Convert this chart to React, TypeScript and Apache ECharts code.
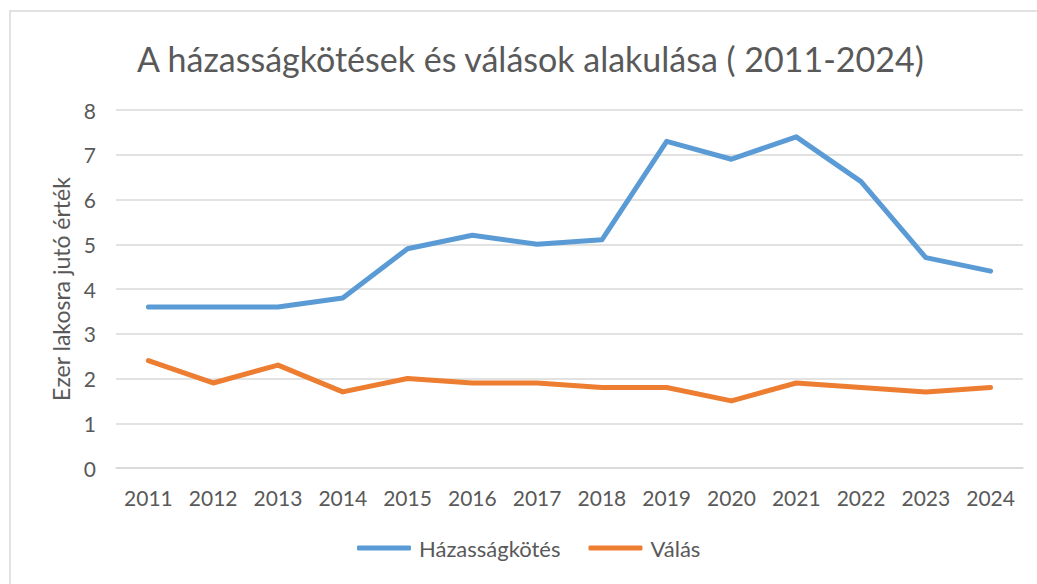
import React, { useEffect, useRef } from "react";
import * as echarts from "echarts";

const years = ["2011","2012","2013","2014","2015","2016","2017","2018","2019","2020","2021","2022","2023","2024"];
const hazassag = [3.6, 3.6, 3.6, 3.8, 4.9, 5.2, 5.0, 5.1, 7.3, 6.9, 7.4, 6.4, 4.7, 4.4];
const valas = [2.4, 1.9, 2.3, 1.7, 2.0, 1.9, 1.9, 1.8, 1.8, 1.5, 1.9, 1.8, 1.7, 1.8];
const titleText = "A házasságkötések és válások alakulása ( 2011-2024)";
const yName = "Ezer lakosra jutó érték";

const FONT = "Lato, 'Open Sans', sans-serif";
const TXT = "#595959";

export default function App() {
  const ref = useRef<HTMLDivElement>(null);
  useEffect(() => {
    const chart = echarts.init(ref.current!, null, { renderer: "svg" });
    chart.setOption({
      animation: false,
      backgroundColor: "#ffffff",
      textStyle: { fontFamily: FONT, color: TXT },
      graphic: [
        {
          type: "rect",
          shape: { x: 10, y: 11, width: 1100, height: 700 },
          style: { fill: "none", stroke: "#d9d9d9", lineWidth: 1.5 },
          silent: true,
          z: -1,
        },
      ],
      title: {
        text: titleText,
        left: 132,
        top: 36,
        textStyle: { fontFamily: FONT, fontSize: 34, fontWeight: "normal", color: TXT },
      },
      legend: {
        bottom: 20,
        left: 352,
        icon: "roundRect",
        itemWidth: 54,
        itemHeight: 5,
        itemGap: 28,
        textStyle: { fontFamily: FONT, fontSize: 22, color: TXT, padding: [0, 0, 0, 3] },
        data: ["Házasságkötés", "Válás"],
      },
      grid: { left: 116, right: 14, top: 110, bottom: 116, containLabel: false },
      xAxis: {
        type: "category",
        data: years,
        boundaryGap: true,
        axisLine: { show: true, lineStyle: { color: "#d9d9d9", width: 1.5 } },
        axisTick: { show: false },
        axisLabel: { fontFamily: FONT, fontSize: 21, color: TXT, margin: 19 },
      },
      yAxis: {
        type: "value",
        min: 0,
        max: 8,
        interval: 1,
        name: yName,
        nameLocation: "middle",
        nameGap: 44,
        nameTextStyle: { fontFamily: FONT, fontSize: 23, color: TXT },
        axisLine: { show: false },
        axisTick: { show: false },
        axisLabel: { fontFamily: FONT, fontSize: 21, color: TXT, margin: 20 },
        splitLine: { lineStyle: { color: "#d9d9d9", width: 1.5 } },
      },
      series: [
        {
          name: "Házasságkötés",
          type: "line",
          data: hazassag,
          symbol: "none",
          lineStyle: { color: "#5b9bd5", width: 5, cap: "round", join: "round" },
          itemStyle: { color: "#5b9bd5" },
        },
        {
          name: "Válás",
          type: "line",
          data: valas,
          symbol: "none",
          lineStyle: { color: "#ed7d31", width: 5, cap: "round", join: "round" },
          itemStyle: { color: "#ed7d31" },
        },
      ],
    });
    return () => chart.dispose();
  }, []);
  return (
    <div
      ref={ref}
      style={{ position: "absolute", left: 0, top: 0, width: 1037, height: 584 }}
    />
  );
}
